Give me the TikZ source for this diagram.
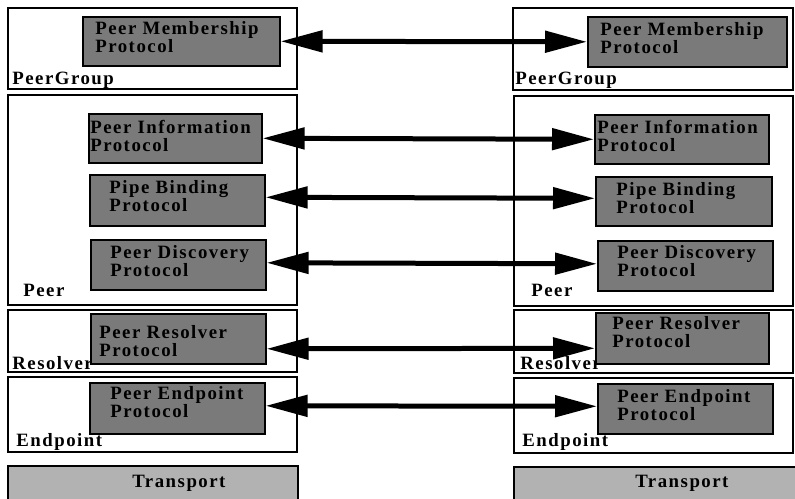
\documentclass[tikz,border=0pt]{standalone}
\usepackage{fontspec}
\setmainfont{Liberation Serif}[LetterSpace=8]
\usetikzlibrary{arrows.meta}
\definecolor{protogray}{RGB}{122,122,122}
\definecolor{transgray}{RGB}{178,178,178}
\newcommand\layerfont{\fontsize{10.7pt}{9.9pt}\selectfont\bfseries}
% box from (x1,y1) to (x2,y2) in pixel units
\newcommand\boxat[6]{%
  \node[#1, anchor=north west, minimum width={(#5-#3)*0.02cm},
        minimum height={(#6-#4)*0.02cm}] (#2) at (#3,#4) {};}
\tikzset{
  frame/.style={draw=black, line width=0.9pt, inner sep=0pt, outer sep=0pt},
  proto/.style={draw=black, line width=0.9pt, fill=protogray, inner sep=0pt},
  trans/.style={draw=black, line width=0.9pt, fill=transgray, inner sep=0pt, outer sep=0pt},
  txt/.style={inner sep=0pt, anchor=base west, align=left, font=\layerfont},
  link/.style={line width=0.1cm,
    {Triangle[length=0.84cm,width=0.42cm]}-{Triangle[length=0.84cm,width=0.42cm]}}
}
\begin{document}
\begin{tikzpicture}[x=0.02cm, y=-0.02cm]
\useasboundingbox (0,0) rectangle (795,498);

% layer frames, left peer
\boxat{frame}{fgL}{8}{8}{297}{89}
\boxat{frame}{fpL}{8}{95}{297}{305}
\boxat{frame}{frL}{8}{310}{297}{372}
\boxat{frame}{feL}{8}{377}{297}{452}
\boxat{trans}{ftL}{8}{466}{298}{505}
% layer frames, right peer
\boxat{frame}{fgR}{513}{8}{793}{90}
\boxat{frame}{fpR}{514}{96}{793}{306}
\boxat{frame}{frR}{514}{310}{793}{373}
\boxat{frame}{feR}{514}{378}{793}{453}
\boxat{trans}{ftR}{514}{467}{798}{505}

% layer names
\node[txt] (lgL) at (12,84) {PeerGroup};
\node[txt] (lpL) at (23,296) {Peer};
\node[txt] (lrL) at (12,369) {Resolver};
\node[txt] (leL) at (16,446) {Endpoint};
\node[txt] (ltL) at (132,487) {Transport};
\node[txt] (lgR) at (515,84) {PeerGroup};
\node[txt] (lpR) at (531,296) {Peer};
\node[txt] (lrR) at (520,369) {Resolver};
\node[txt] (leR) at (522,446) {Endpoint};
\node[txt] (ltR) at (635,487) {Transport};

% protocol boxes, left peer
\boxat{proto}{pmL}{82}{16}{279}{65}
\boxat{proto}{piL}{88}{113}{261}{162}
\boxat{proto}{pbL}{89}{174}{264}{225}
\boxat{proto}{pdL}{90}{239}{265}{289}
\boxat{proto}{prL}{90}{313}{265}{363}
\boxat{proto}{peL}{89}{382}{264}{433}
% protocol boxes, right peer
\boxat{proto}{pmR}{587}{16}{786}{66}
\boxat{proto}{piR}{594}{114}{768}{163}
\boxat{proto}{pbR}{595}{176}{771}{225}
\boxat{proto}{pdR}{597}{240}{772}{290}
\boxat{proto}{prR}{595}{312}{768}{363}
\boxat{proto}{peR}{597}{383}{772}{433}

% protocol names (anchored on the baseline of the second line)
\node[txt] (tmL) at (95,52)  {Peer Membership\\Protocol};
\node[txt] (tiL) at (90,151) {Peer Information\\Protocol};
\node[txt] (tbL) at (109,211) {Pipe Binding\\Protocol};
\node[txt] (tdL) at (110,276) {Peer Discovery\\Protocol};
\node[txt] (trL) at (99,356) {Peer Resolver\\Protocol};
\node[txt] (teL) at (110,417) {Peer Endpoint\\Protocol};
\node[txt] (tmR) at (600,53)  {Peer Membership\\Protocol};
\node[txt] (tiR) at (597,151) {Peer Information\\Protocol};
\node[txt] (tbR) at (616,213) {Pipe Binding\\Protocol};
\node[txt] (tdR) at (617,276) {Peer Discovery\\Protocol};
\node[txt] (trR) at (612,347) {Peer Resolver\\Protocol};
\node[txt] (teR) at (617,420) {Peer Endpoint\\Protocol};

% peer-to-peer protocol exchanges
\draw[link] (pmL.east) -- (pmR.west);
\draw[link] (piL.east) -- (piR.west);
\draw[link] ([yshift=0.06cm]pbL.east) -- ([yshift=0.06cm]pbR.west);
\draw[link] ([yshift=0.04cm]pdL.east) -- ([yshift=0.04cm]pdR.west);
\draw[link] ([yshift=-0.2cm]prL.east) -- ([yshift=-0.2cm]prR.west);
\draw[link] ([yshift=0.05cm]peL.east) -- ([yshift=0.05cm]peR.west);
\end{tikzpicture}
\end{document}
